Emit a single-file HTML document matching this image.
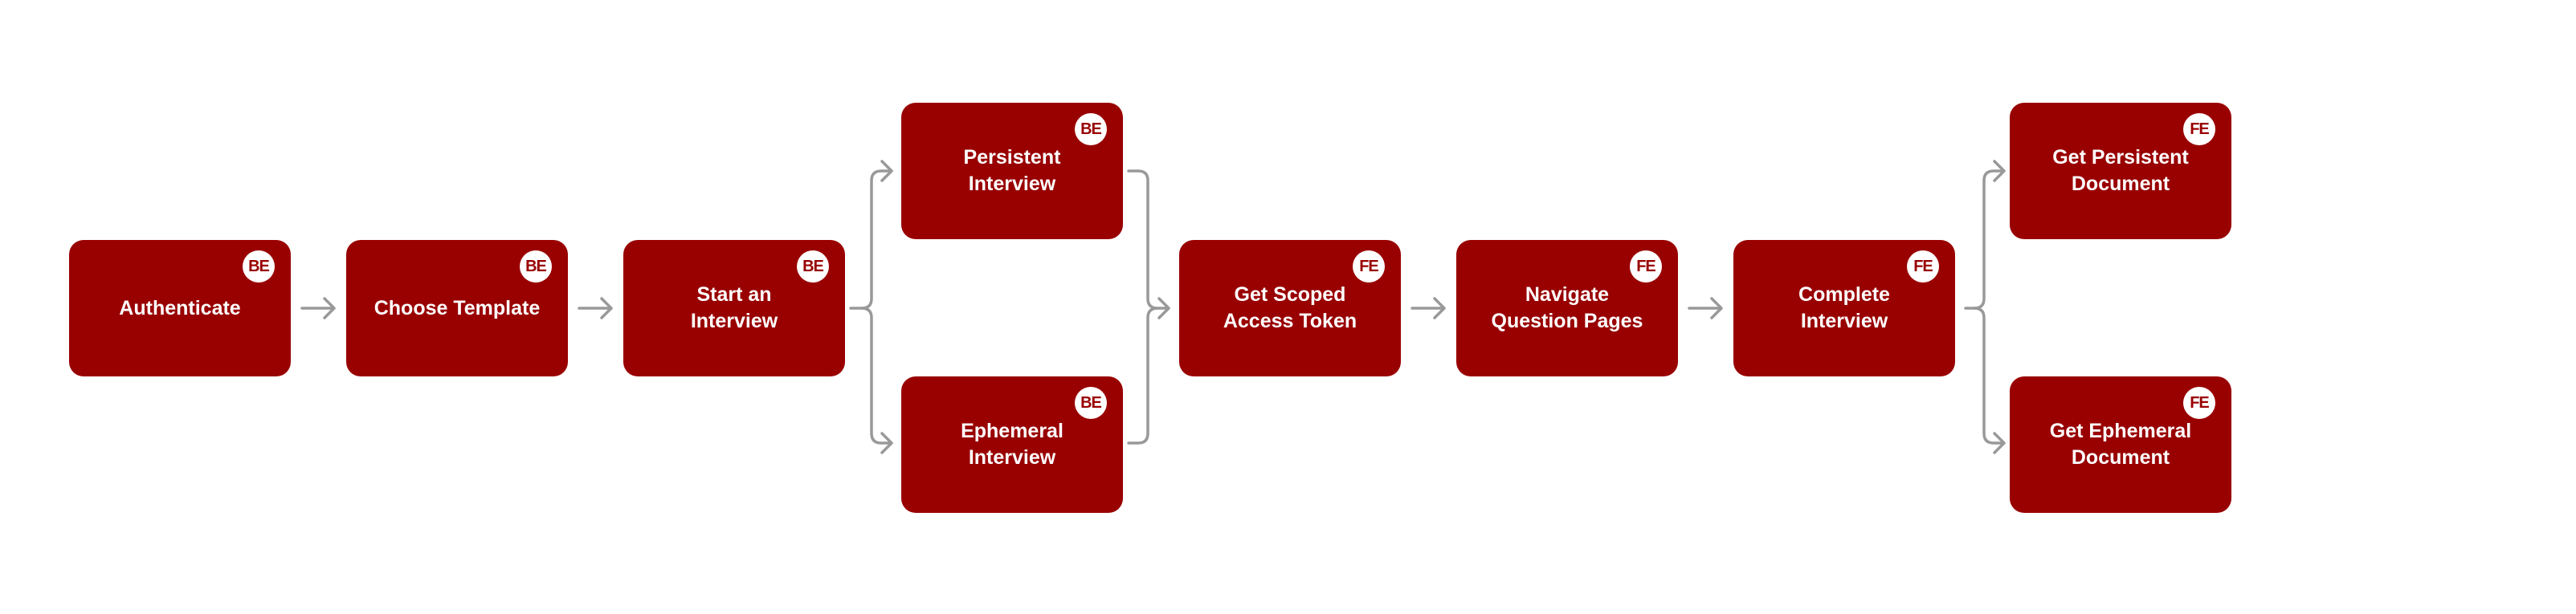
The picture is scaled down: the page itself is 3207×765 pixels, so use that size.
<!DOCTYPE html>
<html><head><meta charset="utf-8"><style>
body{margin:0;width:3207px;height:765px;background:#fff;position:relative;overflow:hidden;font-family:"Liberation Sans",Arial,sans-serif}
.b{position:absolute;width:276px;height:170px;background:#990000;border-radius:18px;display:flex;align-items:center;justify-content:center;text-align:center;color:#fff;font-weight:bold;font-size:25px;line-height:33px}
.g{position:absolute;right:20px;top:13px;width:40px;height:40px;border-radius:50%;background:#fff;color:#990000;font-size:20px;line-height:40px;text-align:center;font-weight:bold;letter-spacing:-1px}
svg{position:absolute;left:0;top:0}
</style></head><body>
<svg width="3207" height="765" fill="none" stroke="#999" stroke-width="3.5" stroke-linecap="round" stroke-linejoin="round">
<path d="M376 384H416M404 372L416 384L404 396"/>
<path d="M721 384H761M749 372L761 384L749 396"/>
<path d="M1059 384H1073Q1085 384 1085 372V225Q1085 213 1097 213H1110M1098 201L1110 213L1098 225"/>
<path d="M1073 384Q1085 384 1085 396V540Q1085 552 1097 552H1110M1098 540L1110 552L1098 564"/>
<path d="M1405 213H1417Q1429 213 1429 225V372Q1429 384 1441 384H1455M1443 372L1455 384L1443 396"/>
<path d="M1405 552H1417Q1429 552 1429 540V396Q1429 384 1441 384"/>
<path d="M1758 384H1798M1786 372L1798 384L1786 396"/>
<path d="M2103 384H2143M2131 372L2143 384L2131 396"/>
<path d="M2447 384H2458Q2470 384 2470 372V225Q2470 213 2482 213H2495M2483 201L2495 213L2483 225"/>
<path d="M2458 384Q2470 384 2470 396V540Q2470 552 2482 552H2495M2483 540L2495 552L2483 564"/>
</svg>
<div class="b" style="left:86px;top:299px">Authenticate<div class="g">BE</div></div>
<div class="b" style="left:431px;top:299px">Choose Template<div class="g">BE</div></div>
<div class="b" style="left:776px;top:299px">Start an<br>Interview<div class="g">BE</div></div>
<div class="b" style="left:1122px;top:128px">Persistent<br>Interview<div class="g">BE</div></div>
<div class="b" style="left:1122px;top:469px">Ephemeral<br>Interview<div class="g">BE</div></div>
<div class="b" style="left:1468px;top:299px">Get Scoped<br>Access Token<div class="g">FE</div></div>
<div class="b" style="left:1813px;top:299px">Navigate<br>Question Pages<div class="g">FE</div></div>
<div class="b" style="left:2158px;top:299px">Complete<br>Interview<div class="g">FE</div></div>
<div class="b" style="left:2502px;top:128px">Get Persistent<br>Document<div class="g">FE</div></div>
<div class="b" style="left:2502px;top:469px">Get Ephemeral<br>Document<div class="g">FE</div></div>
</body></html>
